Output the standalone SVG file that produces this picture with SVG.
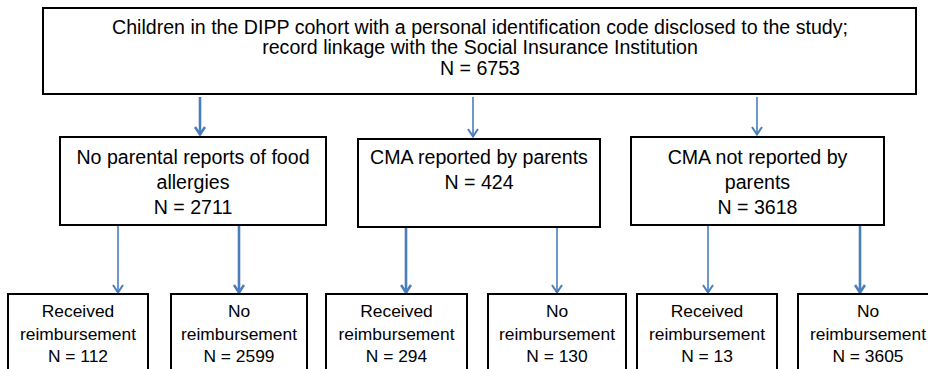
<svg xmlns="http://www.w3.org/2000/svg" width="928" height="369" viewBox="0 0 928 369">
<defs>
<style>
.box{fill:#fff;stroke:#000;stroke-width:2}
.t{font-family:"Liberation Sans",Arial,sans-serif;fill:#000;text-anchor:middle}
.m{font-size:19.6px}
.s{font-size:17.4px}
.c{stroke:#4a7ebb;fill:none}
.thin{stroke-width:1.6}
.thick{stroke-width:2.6}
</style>
<marker id="ah" markerUnits="userSpaceOnUse" viewBox="0 0 10 12" markerWidth="10" markerHeight="12" refX="9" refY="6" orient="auto">
<path d="M1,1 L8.5,6 L1,11" fill="none" stroke="#4a7ebb" stroke-width="2"/>
</marker>
<marker id="ahb" markerUnits="userSpaceOnUse" viewBox="0 0 10 12" markerWidth="10" markerHeight="12" refX="9" refY="6" orient="auto">
<path d="M1,1 L8.5,6 L1,11" fill="none" stroke="#4a7ebb" stroke-width="2.6"/>
</marker>
</defs>
<rect width="928" height="369" fill="#fff"/>
<g id="connectors">
<line class="c thick" x1="200" y1="97" x2="200" y2="135" marker-end="url(#ahb)"/>
<line class="c thin" x1="473" y1="97" x2="473" y2="137" marker-end="url(#ah)"/>
<line class="c thin" x1="757" y1="97" x2="757" y2="135" marker-end="url(#ah)"/>
<line class="c thin" x1="118" y1="225" x2="118" y2="293" marker-end="url(#ah)"/>
<line class="c thick" x1="239" y1="225" x2="239" y2="293" marker-end="url(#ahb)"/>
<line class="c thick" x1="406" y1="227" x2="406" y2="293" marker-end="url(#ahb)"/>
<line class="c thin" x1="557" y1="227" x2="557" y2="293" marker-end="url(#ah)"/>
<line class="c thin" x1="708" y1="225" x2="708" y2="293" marker-end="url(#ah)"/>
<line class="c thick" x1="860" y1="225" x2="860" y2="293" marker-end="url(#ahb)"/>
</g>
<g id="top">
<rect class="box" x="43" y="8" width="873" height="86"/>
<text class="t m" x="480" y="33.5">Children in the DIPP cohort with a personal identification code disclosed to the study;</text>
<text class="t m" x="480" y="54">record linkage with the Social Insurance Institution</text>
<text class="t m" x="480" y="74.5">N = 6753</text>
</g>
<g id="noFood">
<rect class="box" x="60" y="137" width="266" height="88"/>
<text class="t m" x="193" y="164">No parental reports of food</text>
<text class="t m" x="193" y="189">allergies</text>
<text class="t m" x="193" y="214">N = 2711</text>
</g>
<g id="cmaReported">
<rect class="box" x="358" y="139" width="242" height="88"/>
<text class="t m" x="479" y="164">CMA reported by parents</text>
<text class="t m" x="479" y="189">N = 424</text>
</g>
<g id="cmaNotReported">
<rect class="box" x="631" y="137" width="253" height="88"/>
<text class="t m" x="757.5" y="164">CMA not reported by</text>
<text class="t m" x="757.5" y="189">parents</text>
<text class="t m" x="757.5" y="214">N = 3618</text>
</g>
<g id="b1">
<rect class="box" x="8" y="294" width="140" height="90"/>
<text class="t s" x="78" y="317">Received</text>
<text class="t s" x="78" y="339.5">reimbursement</text>
<text class="t s" x="78" y="362">N = 112</text>
</g>
<g id="b2">
<rect class="box" x="171" y="294" width="136" height="90"/>
<text class="t s" x="239" y="317">No</text>
<text class="t s" x="239" y="339.5">reimbursement</text>
<text class="t s" x="239" y="362">N = 2599</text>
</g>
<g id="b3">
<rect class="box" x="326" y="294" width="141" height="90"/>
<text class="t s" x="396.5" y="317">Received</text>
<text class="t s" x="396.5" y="339.5">reimbursement</text>
<text class="t s" x="396.5" y="362">N = 294</text>
</g>
<g id="b4">
<rect class="box" x="488" y="294" width="138" height="90"/>
<text class="t s" x="557" y="317">No</text>
<text class="t s" x="557" y="339.5">reimbursement</text>
<text class="t s" x="557" y="362">N = 130</text>
</g>
<g id="b5">
<rect class="box" x="637" y="294" width="140" height="90"/>
<text class="t s" x="707" y="317">Received</text>
<text class="t s" x="707" y="339.5">reimbursement</text>
<text class="t s" x="707" y="362">N = 13</text>
</g>
<g id="b6">
<rect class="box" x="798" y="294" width="140" height="90"/>
<text class="t s" x="868" y="317">No</text>
<text class="t s" x="868" y="339.5">reimbursement</text>
<text class="t s" x="868" y="362">N = 3605</text>
</g>
</svg>
